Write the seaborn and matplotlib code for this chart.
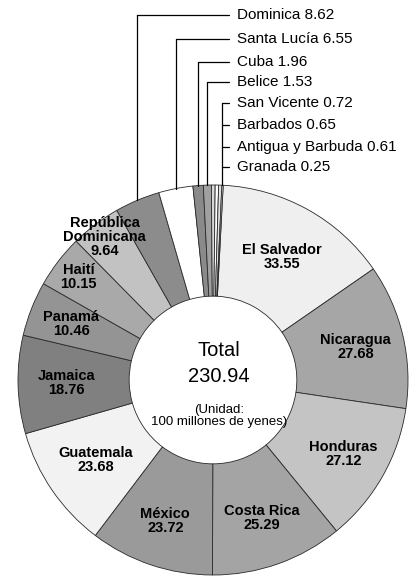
import matplotlib
matplotlib.use('Agg')
import matplotlib.pyplot as plt
import seaborn as sns
import numpy as np

# wedges in clockwise order from the top
countries = ["El Salvador", "Nicaragua", "Honduras", "Costa Rica", "México",
             "Guatemala", "Jamaica", "Panamá", "Haití", "República\nDominicana",
             "Dominica", "Santa Lucía", "Cuba", "Belice", "San Vicente",
             "Barbados", "Antigua y Barbuda", "Granada"]
values = [33.55, 27.68, 27.12, 25.29, 23.72,
          23.68, 18.76, 10.46, 10.15, 9.64,
          8.62, 6.55, 1.96, 1.53, 0.72,
          0.65, 0.61, 0.25]
shades = ["#efefef", "#a6a6a6", "#c4c4c4", "#a4a4a4", "#9a9a9a",
          "#f2f2f2", "#808080", "#949494", "#a9a9a9", "#c2c2c2",
          "#8c8c8c", "#ffffff", "#8a8a8a", "#a0a0a0", "#d8d8d8",
          "#ffffff", "#e0e0e0", "#ffffff"]

n_inside = 10       # first 10 wedges are labelled inside the ring
n_single = 4        # then 4 with their own leader, last 4 share one leader

sns.set_style("white")
plt.rcParams['font.family'] = ['Liberation Sans', 'DejaVu Sans']
plt.rcParams['text.color'] = 'black'

W, H = 415, 576
CX, CY, R = 213, 380, 195   # ring centre and radius in pixels


def px(x, y):
    """pixel position (from top-left) -> data coords"""
    return (x - CX) / R, (CY - y) / R


fig = plt.figure(figsize = (W / 100, H / 100), dpi = 100)
ax = fig.add_axes([0, 0, 1, 1])

wedges, _ = ax.pie(values, colors = shades, startangle = 87, counterclock = False,
                   radius = 1.0,
                   wedgeprops = dict(width = 0.57, edgecolor = '#2a2a2a', linewidth = 0.6))

ax.set_aspect('auto')
x0, y0 = px(0, H)
x1, y1 = px(W, 0)
ax.set_xlim(x0, x1)
ax.set_ylim(y0, y1)
ax.axis('off')

mids = [np.deg2rad((w.theta1 + w.theta2) / 2) for w in wedges]

# labels inside the ring
label_r = [0.725, 0.75, 0.77, 0.75, 0.765, 0.73, 0.75, 0.78, 0.87, 0.92]
for i in range(n_inside):
    a = mids[i]
    ax.text(label_r[i] * np.cos(a), label_r[i] * np.sin(a),
            f"{countries[i]}\n{values[i]:.2f}",
            ha = 'center', va = 'center', fontsize = 10.5, fontweight = 'bold',
            linespacing = 1.0, color = 'black')

# leader labels for the small wedges at the top
label_y = [15, 39, 62, 82, 103, 125, 147, 167]
text_x, line_end = 237, 229
lw = 0.9
for k, i in enumerate(range(n_inside, n_inside + n_single)):
    xv = np.cos(mids[i])
    ytop = px(0, label_y[k])[1]
    ax.plot([xv, xv], [np.sqrt(1 - xv ** 2), ytop], color = 'black', lw = lw)
    ax.plot([xv, px(line_end, 0)[0]], [ytop, ytop], color = 'black', lw = lw)

rest = range(n_inside + n_single, len(values))
a_rest = np.mean([mids[i] for i in rest])
xv = np.cos(a_rest) + 0.02
ytop = px(0, label_y[n_single])[1]
ax.plot([xv, xv], [np.sqrt(1 - xv ** 2), ytop], color = 'black', lw = lw)
for k in range(n_single, len(label_y)):
    yy = px(0, label_y[k])[1]
    ax.plot([xv, px(line_end, 0)[0]], [yy, yy], color = 'black', lw = lw)

for k, i in enumerate(range(n_inside, len(values))):
    tx, ty = px(text_x, label_y[k])
    ax.text(tx, ty, f"{countries[i]} {values[i]:.2f}", ha = 'left', va = 'center',
            fontsize = 11, color = 'black')

# centre
total = sum(values)
ax.text(*px(219, 350), "Total", ha = 'center', va = 'center', fontsize = 14.5)
ax.text(*px(219, 376), f"{total:.2f}", ha = 'center', va = 'center', fontsize = 14.5)
ax.text(*px(219, 416), "(Unidad:\n100 millones de yenes)", ha = 'center', va = 'center',
        fontsize = 9.5, linespacing = 1.05)

fig.savefig("out.png", dpi = 100)
plt.close(fig)
